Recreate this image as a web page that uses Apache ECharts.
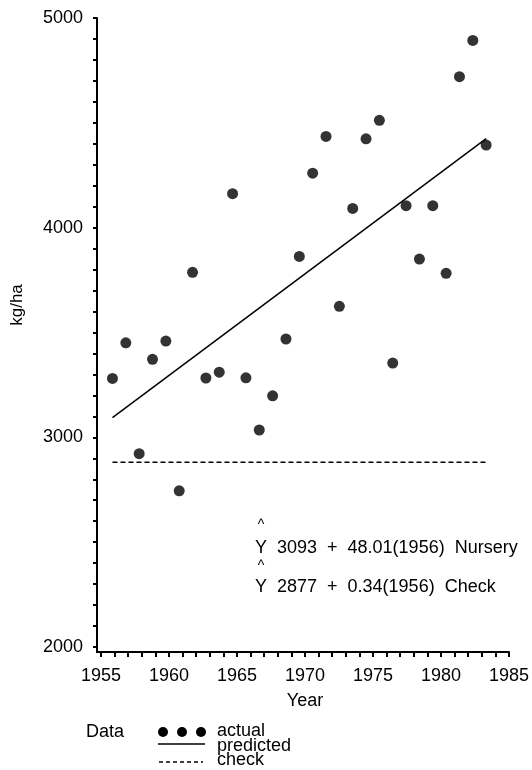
<!DOCTYPE html>
<html>
<head>
<meta charset="utf-8">
<script src="https://cdn.jsdelivr.net/npm/echarts@6/dist/echarts.min.js"></script>
<style>
  html, body { margin: 0; padding: 0; background: #fff; }
  #chart { width: 532px; height: 770px; }
</style>
</head>
<body>
<div id="chart"></div>
<script>
// yields
var years = [1956, 1957, 1958, 1959, 1960, 1961, 1962, 1963, 1964, 1965,
             1966, 1967, 1968, 1969, 1970, 1971, 1972, 1973, 1974, 1975,
             1976, 1977, 1978, 1979, 1980, 1981, 1982, 1983, 1984];
var actual = [3281, 3451, 2922, 3372, 3459, 2745, 3787, 3283, 3311, 4162,
              3284, 3035, 3198, 3469, 3863, 4260, 4435, 3625, 4092, 4424,
              4512, 3354, 4105, 3850, 4105, 3782, 4720, 4893, 4394];
var lineYears = [1956, 1984];
var predicted = [3094, 4425];
var check = [2881, 2881];
var yTicks = [2000, 3000, 4000, 5000];
var xTicks = [1955, 1960, 1965, 1970, 1975, 1980, 1985];

var font = '"Liberation Sans", Arial, sans-serif';
var chart = echarts.init(document.getElementById('chart'));

function pairs(xs, ys) {
  return xs.map(function (x, i) { return [x, ys[i]]; });
}
function plain(v) { return String(v); }

var option = {
  backgroundColor: '#fff',
  animation: false,
  grid: { left: 101, right: 21, top: 18, bottom: 123 },
  xAxis: [
    {
      type: 'value',
      min: xTicks[0],
      max: xTicks[xTicks.length - 1],
      interval: 5,
      offset: 5,
      name: 'Year',
      nameLocation: 'middle',
      nameGap: 40,
      nameTextStyle: { color: '#000', fontSize: 18, fontFamily: font },
      axisLine: { lineStyle: { color: '#000', width: 2 } },
      axisTick: { length: 5, lineStyle: { color: '#000', width: 2 } },
      minorTick: { show: true, splitNumber: 5, length: 5, lineStyle: { color: '#000', width: 2 } },
      axisLabel: { color: '#000', fontSize: 18, fontFamily: font, margin: 15, formatter: plain },
      splitLine: { show: false }
    },
    {
      // the dots and fitted lines sit on a slightly narrower year scale in the original
      type: 'value',
      min: 1955.14,
      max: 1985.71,
      show: false,
      splitLine: { show: false }
    }
  ],
  yAxis: {
    type: 'value',
    min: yTicks[0],
    max: yTicks[yTicks.length - 1],
    interval: 1000,
    offset: 4,
    axisLine: { show: true, lineStyle: { color: '#000', width: 2 } },
    axisTick: { show: true, length: 4, lineStyle: { color: '#000', width: 2 } },
    minorTick: { show: true, splitNumber: 10, length: 4, lineStyle: { color: '#000', width: 2 } },
    axisLabel: { color: '#000', fontSize: 18, fontFamily: font, margin: 14, formatter: plain },
    splitLine: { show: false }
  },
  series: [
    {
      name: 'actual',
      type: 'scatter',
      xAxisIndex: 1,
      symbol: 'circle',
      symbolSize: 11,
      itemStyle: { color: '#000' },
      data: pairs(years, actual)
    },
    {
      name: 'predicted',
      type: 'line',
      xAxisIndex: 1,
      showSymbol: false,
      lineStyle: { color: '#000', width: 1.5 },
      data: pairs(lineYears, predicted)
    },
    {
      name: 'check',
      type: 'line',
      xAxisIndex: 1,
      showSymbol: false,
      lineStyle: { color: '#000', width: 1.5, type: [5, 3] },
      data: pairs(lineYears, check)
    }
  ],
  graphic: [
    // close the small gap at the axes' corner
    { type: 'polyline', shape: { points: [[97, 646], [97, 652], [102, 652]] },
      style: { stroke: '#000', lineWidth: 2, fill: null } },

    { type: 'text', x: 17, y: 305, rotation: Math.PI / 2,
      style: { text: 'kg/ha', fill: '#000', font: '17px ' + font, align: 'center', verticalAlign: 'middle' } },

    { type: 'text', x: 261, y: 525,
      style: { text: '^', fill: '#000', font: '14px ' + font, align: 'center', verticalAlign: 'middle' } },
    { type: 'text', x: 255, y: 548,
      style: { text: 'Y  3093  +  48.01(1956)  Nursery', fill: '#000', font: '18px ' + font, verticalAlign: 'middle' } },
    { type: 'text', x: 261, y: 566,
      style: { text: '^', fill: '#000', font: '14px ' + font, align: 'center', verticalAlign: 'middle' } },
    { type: 'text', x: 255, y: 587,
      style: { text: 'Y  2877  +  0.34(1956)  Check', fill: '#000', font: '18px ' + font, verticalAlign: 'middle' } },

    { type: 'text', x: 86, y: 732,
      style: { text: 'Data', fill: '#000', font: '18px ' + font, verticalAlign: 'middle' } },
    { type: 'circle', shape: { cx: 163, cy: 732, r: 5 }, style: { fill: '#000' } },
    { type: 'circle', shape: { cx: 182, cy: 732, r: 5 }, style: { fill: '#000' } },
    { type: 'circle', shape: { cx: 201, cy: 732, r: 5 }, style: { fill: '#000' } },
    { type: 'text', x: 217, y: 731,
      style: { text: 'actual', fill: '#000', font: '18px ' + font, verticalAlign: 'middle' } },
    { type: 'line', shape: { x1: 158, y1: 744, x2: 205, y2: 744 }, style: { stroke: '#000', lineWidth: 1.5 } },
    { type: 'text', x: 217, y: 746,
      style: { text: 'predicted', fill: '#000', font: '18px ' + font, verticalAlign: 'middle' } },
    { type: 'line', shape: { x1: 159, y1: 762, x2: 203, y2: 762 }, style: { stroke: '#000', lineWidth: 1.5, lineDash: [4, 3] } },
    { type: 'text', x: 217, y: 760,
      style: { text: 'check', fill: '#000', font: '18px ' + font, verticalAlign: 'middle' } }
  ]
};

chart.setOption(option);
</script>
</body>
</html>
